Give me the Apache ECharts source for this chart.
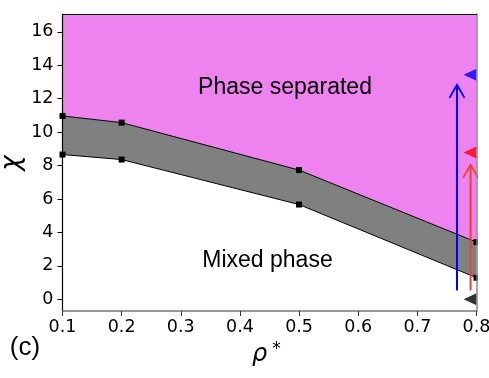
<!DOCTYPE html>
<html><head><meta charset="utf-8">
<script src="https://cdn.jsdelivr.net/npm/echarts@6/dist/echarts.min.js"></script>
<style>html,body{margin:0;padding:0;background:#fff}#c{width:489px;height:378px}</style>
</head><body><div id="c"></div>
<script>
// ---- data ----
const rho = [0.1, 0.2, 0.5, 0.8];
const chiLower = [8.66, 8.36, 5.67, 1.29];
const chiUpper = [10.97, 10.57, 7.73, 3.42];
const xTicks = [0.1, 0.2, 0.3, 0.4, 0.5, 0.6, 0.7, 0.8];
const yTicks = [0, 2, 4, 6, 8, 10, 12, 14, 16];
const arrowRho = [0.767, 0.79];
const arrowFrom = [0.53, 0.53];
const arrowTo = [12.83, 8.04];
const arrowColors = ['#0000ff', '#e8442f'];
const markerRho = [0.8, 0.8, 0.8];
const markerChi = [13.43, 8.79, 0];
const markerColors = ['#0000ff', '#ff0000', '#000000'];
const labelPhaseSep = 'Phase separated';
const labelMixed = 'Mixed phase';

// ---- derived ----
const lowerPts = rho.map((r, i) => [r, chiLower[i]]);
const upperPts = rho.map((r, i) => [r, chiUpper[i]]);
const arrowData = arrowRho.map((r, i) => [r, arrowFrom[i], arrowTo[i]]);
const markerData = markerRho.map((r, i) => ({value: [r, markerChi[i]], itemStyle: {color: markerColors[i]}}));

const chart = echarts.init(document.getElementById('c'), null, {renderer: 'canvas'});
const XMIN = 0.1, XMAX = 0.8, YMIN = -0.7, YMAX = 17.07;
const tickFont = {fontSize: 17.5, fontFamily: 'DejaVu Sans', color: '#000'};

chart.setOption({
  animation: false,
  backgroundColor: '#fff',
  grid: {left: 62.5, right: 12.5, top: 14, bottom: 67, containLabel: false, outerBoundsMode: 'none'},
  xAxis: [{
    type: 'value', min: XMIN, max: XMAX, z: 10,
    axisLine: {show: true, onZero: false, lineStyle: {color: '#777', width: 1.5}},
    axisTick: {show: true, length: 5, customValues: xTicks, lineStyle: {color: '#333', width: 1}},
    axisLabel: Object.assign({customValues: xTicks, margin: 7, formatter: v => v.toFixed(1)}, tickFont),
    splitLine: {show: false}
  }, {
    type: 'value', position: 'top', min: XMIN, max: XMAX, z: 10,
    axisLine: {show: true, onZero: false, lineStyle: {color: '#000', width: 1.2}},
    axisTick: {show: false}, axisLabel: {show: false}, splitLine: {show: false}
  }],
  yAxis: [{
    type: 'value', min: YMIN, max: YMAX, z: 10,
    axisLine: {show: true, onZero: false, lineStyle: {color: '#000', width: 1.2}},
    axisTick: {show: true, length: 5, customValues: yTicks, lineStyle: {color: '#000', width: 1}},
    axisLabel: Object.assign({customValues: yTicks, margin: 9}, tickFont),
    splitLine: {show: false}
  }, {
    type: 'value', position: 'right', min: YMIN, max: YMAX, z: 10,
    axisLine: {show: true, onZero: false, lineStyle: {color: '#888', width: 1.5}},
    axisTick: {show: false}, axisLabel: {show: false}, splitLine: {show: false}
  }],
  series: [
    {
      type: 'line', data: upperPts, symbol: 'none', z: 1,
      lineStyle: {width: 0},
      areaStyle: {origin: 'end', color: '#ee82ee', opacity: 1}
    },
    {
      type: 'custom', data: [lowerPts[0]], z: 1,
      renderItem: function (params, api) {
        const pts = upperPts.map(p => api.coord(p)).concat(lowerPts.slice().reverse().map(p => api.coord(p)));
        return {type: 'polygon', shape: {points: pts}, style: {fill: '#808080', stroke: null}};
      }
    },
    {
      type: 'line', data: lowerPts, z: 3,
      symbol: 'rect', symbolSize: 6, itemStyle: {color: '#000'},
      lineStyle: {color: '#000', width: 1}
    },
    {
      type: 'line', data: upperPts, z: 3,
      symbol: 'rect', symbolSize: 6, itemStyle: {color: '#000'},
      lineStyle: {color: '#000', width: 1}
    },
    {
      type: 'custom', data: arrowData, z: 4,
      renderItem: function (params, api) {
        const x = api.value(0);
        const p0 = api.coord([x, api.value(1)]);
        const p1 = api.coord([x, api.value(2)]);
        const color = arrowColors[params.dataIndex];
        return {type: 'group', children: [
          {type: 'line', shape: {x1: p0[0], y1: p0[1], x2: p1[0], y2: p1[1]}, style: {stroke: color, lineWidth: 2}},
          {type: 'polyline', shape: {points: [[p1[0] - 7.5, p1[1] + 13], [p1[0], p1[1]], [p1[0] + 7.5, p1[1] + 13]]},
           style: {stroke: color, fill: null, lineWidth: 1.8}}
        ]};
      }
    },
    {
      type: 'scatter', data: markerData, z: 5,
      symbol: 'triangle', symbolRotate: 90, symbolSize: [12, 13], symbolOffset: [-6.5, 0]
    }
  ],
  graphic: [
    {type: 'rect', shape: {x: 478, y: 0, width: 11, height: 300}, style: {fill: '#fff'}, z: 8},
    {type: 'text', x: 285, y: 88, z: 20, style: {text: labelPhaseSep, font: '23px "Liberation Sans"', fill: '#000', align: 'center', verticalAlign: 'middle'}},
    {type: 'text', x: 267.5, y: 261, z: 20, style: {text: labelMixed, font: '23px "Liberation Sans"', fill: '#000', align: 'center', verticalAlign: 'middle'}},
    {type: 'text', x: 12, y: 163, rotation: Math.PI / 2, z: 20, style: {text: 'χ', font: 'italic 26px "DejaVu Sans"', fill: '#000', align: 'center', verticalAlign: 'middle'}},
    {type: 'text', x: 259.7, y: 355, z: 20, style: {text: 'ρ', font: 'italic 24px "DejaVu Sans"', fill: '#000', align: 'center', verticalAlign: 'middle'}},
    {type: 'text', x: 276.5, y: 350, z: 20, style: {text: '*', font: '17px "DejaVu Sans"', fill: '#000', align: 'center', verticalAlign: 'middle'}},
    {type: 'text', x: 25, y: 348, z: 20, style: {text: '(c)', font: '26px "Liberation Sans"', fill: '#000', align: 'center', verticalAlign: 'middle'}}
  ]
});
</script>
</body></html>
